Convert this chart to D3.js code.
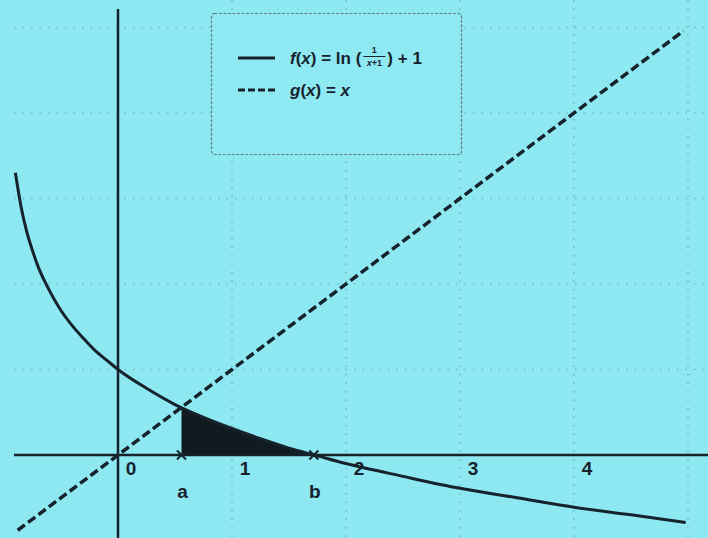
<!DOCTYPE html>
<html><head><meta charset="utf-8">
<script src="https://cdn.jsdelivr.net/npm/d3@7"></script>
<style>html,body{margin:0;padding:0;background:#8de8f1;}svg{display:block;}</style>
</head><body>
<svg id="c" width="708" height="538"></svg>
<script>
// ---- data ----
const xTickValues = [0, 1, 2, 3, 4];
const xTickLabels = ["0", "1", "2", "3", "4"];
const gridXValues = [1, 2, 3, 4, 5];
const gridYValues = [1, 2, 3, 4, 5];
// f(x) = ln(1/(x+1)) + 1
const fX = [-0.9, -0.85, -0.8, -0.75, -0.7, -0.65, -0.6, -0.5, -0.4, -0.3, -0.2, -0.1, 0, 0.25, 0.5, 0.75, 1, 1.25, 1.5, 1.75, 2, 2.5, 3, 3.5, 4, 4.5, 4.98];
const fY = [3.30, 2.90, 2.61, 2.39, 2.20, 2.05, 1.92, 1.69, 1.51, 1.36, 1.22, 1.11, 1.00, 0.78, 0.59, 0.44, 0.31, 0.19, 0.08, -0.01, -0.10, -0.25, -0.39, -0.50, -0.61, -0.70, -0.79];
// g(x) = x
const gX = [-0.88, 4.96];
const gY = [-0.88, 4.96];
// shaded region between a and b under f
const shadeX = [0.557, 0.75, 1, 1.25, 1.5, 1.718];
const shadeY = [0.557, 0.44, 0.31, 0.19, 0.08, 0];
const markX = [0.557, 1.718];
const markLabels = ["a", "b"];

const svg = d3.select("#c");
const W = 708, H = 538;
const x = d3.scaleLinear().domain([0, 1]).range([118, 232]);
const y = d3.scaleLinear().domain([0, 1]).range([455, 369.5]);
const ink = "#16232d";
const ff = "Liberation Sans, Arial, sans-serif";

svg.append("rect").attr("width", W).attr("height", H).attr("fill", "#8de8f1");

// grid
const grid = svg.append("g").attr("stroke", "#4f7880").attr("stroke-width", 1.2)
  .attr("stroke-dasharray", "1.5,7").attr("opacity", 0.55);
grid.selectAll("line.gx").data(gridXValues).join("line")
  .attr("x1", d => x(d)).attr("x2", d => x(d)).attr("y1", 0).attr("y2", H);
grid.selectAll("line.gy").data(gridYValues).join("line")
  .attr("x1", 14).attr("x2", W).attr("y1", d => y(d)).attr("y2", d => y(d));

// shaded area
const shade = shadeX.map((v, i) => [v, shadeY[i]]);
svg.append("path").datum(shade)
  .attr("d", d3.area().x(d => x(d[0])).y0(y(0)).y1(d => y(d[1])).curve(d3.curveMonotoneX))
  .attr("fill", "#111a20");

// axes
svg.append("line").attr("x1", 14).attr("x2", W).attr("y1", y(0)).attr("y2", y(0))
  .attr("stroke", ink).attr("stroke-width", 2.5);
svg.append("line").attr("x1", x(0)).attr("x2", x(0)).attr("y1", 9).attr("y2", H)
  .attr("stroke", ink).attr("stroke-width", 2.5);

// tick labels
svg.selectAll("text.tick").data(xTickValues).join("text")
  .attr("x", d => x(d) + 13).attr("y", y(0) + 20)
  .attr("text-anchor", "middle")
  .attr("font-family", ff).attr("font-weight", "bold")
  .attr("font-size", 19).attr("fill", ink)
  .text((d, i) => xTickLabels[i]);

// g(x) dashed line
const gPts = gX.map((v, i) => [v, gY[i]]);
svg.append("path").datum(gPts)
  .attr("d", d3.line().x(d => x(d[0])).y(d => y(d[1])))
  .attr("fill", "none").attr("stroke", ink).attr("stroke-width", 3.5)
  .attr("stroke-dasharray", "9,4");

// f(x) curve
const fPts = fX.map((v, i) => [v, fY[i]]);
svg.append("path").datum(fPts)
  .attr("d", d3.line().x(d => x(d[0])).y(d => y(d[1])).curve(d3.curveMonotoneX))
  .attr("fill", "none").attr("stroke", ink).attr("stroke-width", 3);

// markers a, b
markX.forEach((v, i) => {
  const cx = x(v), cy = y(0), s = 4.5;
  svg.append("path").attr("d", `M${cx - s},${cy - s}L${cx + s},${cy + s}M${cx - s},${cy + s}L${cx + s},${cy - s}`)
    .attr("stroke", ink).attr("stroke-width", 2);
  svg.append("text").attr("x", cx + 1).attr("y", 498).attr("text-anchor", "middle")
    .attr("font-family", ff).attr("font-weight", "bold")
    .attr("font-size", 19).attr("fill", ink).text(markLabels[i]);
});

// legend
const lg = svg.append("g");
lg.append("rect").attr("x", 211.5).attr("y", 13.5).attr("width", 250).attr("height", 141).attr("rx", 3)
  .attr("fill", "#8fe9f2").attr("stroke", "#5d7e86").attr("stroke-width", 1.2).attr("stroke-dasharray", "3,1.5");
lg.append("line").attr("x1", 238).attr("x2", 275).attr("y1", 58).attr("y2", 58)
  .attr("stroke", ink).attr("stroke-width", 3);
lg.append("line").attr("x1", 238).attr("x2", 275).attr("y1", 90).attr("y2", 90)
  .attr("stroke", ink).attr("stroke-width", 3).attr("stroke-dasharray", "7,3");

const fs = 17;
const t1 = lg.append("text").attr("x", 290).attr("y", 64).attr("font-family", ff)
  .attr("font-weight", "bold").attr("font-size", fs).attr("fill", ink);
t1.append("tspan").attr("font-style", "italic").text("f");
t1.append("tspan").text("(");
t1.append("tspan").attr("font-style", "italic").text("x");
t1.append("tspan").text(") = ln (");
const w1 = t1.node().getComputedTextLength();
const fracL = 290 + w1 + 1, fracW = 24, fracC = fracL + fracW / 2;
lg.append("text").attr("x", fracC).attr("y", 53).attr("text-anchor", "middle").attr("font-family", ff)
  .attr("font-weight", "bold").attr("font-size", 9).attr("fill", ink).text("1");
lg.append("line").attr("x1", fracL + 1).attr("x2", fracL + fracW - 1).attr("y1", 56.5).attr("y2", 56.5)
  .attr("stroke", ink).attr("stroke-width", 1);
const den = lg.append("text").attr("x", fracC).attr("y", 66).attr("text-anchor", "middle").attr("font-family", ff)
  .attr("font-weight", "bold").attr("font-size", 9).attr("fill", ink);
den.append("tspan").attr("font-style", "italic").text("x");
den.append("tspan").text("+1");
lg.append("text").attr("x", fracL + fracW + 1).attr("y", 64).attr("font-family", ff)
  .attr("font-weight", "bold").attr("font-size", fs).attr("fill", ink).text(") + 1");
const t2 = lg.append("text").attr("x", 290).attr("y", 96).attr("font-family", ff)
  .attr("font-weight", "bold").attr("font-size", fs).attr("fill", ink);
t2.append("tspan").attr("font-style", "italic").text("g");
t2.append("tspan").text("(");
t2.append("tspan").attr("font-style", "italic").text("x");
t2.append("tspan").text(") = ");
t2.append("tspan").attr("font-style", "italic").text("x");
</script>
</body></html>
